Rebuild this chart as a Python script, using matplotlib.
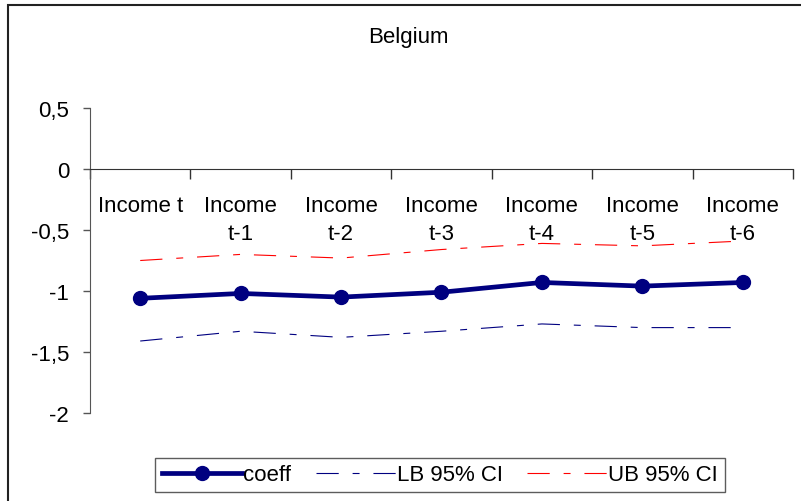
import numpy as np
import matplotlib
matplotlib.use('Agg')
import matplotlib.pyplot as plt
from matplotlib.patches import Rectangle

plt.rcParams['font.family'] = ['Liberation Sans', 'DejaVu Sans']
plt.rcParams['lines.scale_dashes'] = False

# data
categories = ['Income t', 'Income\nt-1', 'Income\nt-2', 'Income\nt-3',
              'Income\nt-4', 'Income\nt-5', 'Income\nt-6']
coeff = [-1.06, -1.02, -1.05, -1.01, -0.93, -0.96, -0.93]
lb_ci = [-1.41, -1.33, -1.38, -1.33, -1.27, -1.30, -1.30]
ub_ci = [-0.75, -0.70, -0.73, -0.66, -0.61, -0.63, -0.59]
yticks = [0.5, 0, -0.5, -1, -1.5, -2]
ytick_labels = ['0,5', '0', '-0,5', '-1', '-1,5', '-2']

W, H = 801, 502
FS = 16
fig = plt.figure(figsize=(W / 100, H / 100), dpi=100)
fig.patch.set_facecolor('white')

# chart frame
fig.add_artist(Rectangle((8 / W, -0.01), 1.0, 1 - 6 / H + 0.01,
                         transform=fig.transFigure, fill=False,
                         edgecolor='#222222', linewidth=1.5))

ax = fig.add_axes([90 / W, 1 - 414 / H, 703 / W, 305 / H])
x = np.arange(len(categories))

dash = (0, (16, 10, 5, 10))
ax.plot(x, coeff, color='#000080', linewidth=3.4, marker='o',
        markersize=10, label='coeff', zorder=3)
ax.plot(x, lb_ci, color='#000080', linewidth=0.8, linestyle=dash,
        label='LB 95% CI')
ax.plot(x, ub_ci, color='#ff0000', linewidth=0.8, linestyle=dash,
        label='UB 95% CI')

ax.set_xlim(-0.5, len(categories) - 0.5)
ax.set_ylim(-2, 0.5)
ax.set_yticks(yticks)
ax.set_yticklabels(ytick_labels, fontsize=FS)
ax.tick_params(axis='y', direction='out', length=5, width=1,
               color='#555555', pad=10)

ax.spines['top'].set_visible(False)
ax.spines['right'].set_visible(False)
ax.spines['left'].set_color('#555555')
ax.spines['bottom'].set_position(('data', 0))
ax.spines['bottom'].set_color('#333333')
ax.set_xticks(np.arange(-0.5, len(categories)))
ax.set_xticklabels([])
ax.tick_params(axis='x', direction='out', length=7, width=1, color='#333333')

for xi, lab in zip(x, categories):
    ax.text(xi, -0.21, lab, ha='center', va='top', fontsize=FS,
            linespacing=1.45)

fig.text(408 / W, 1 - 37 / H, 'Belgium', ha='center', va='center',
         fontsize=FS)

leg = fig.legend(loc='center', bbox_to_anchor=(440 / W, 1 - 476 / H),
                 ncol=3, fontsize=FS, frameon=True, fancybox=False,
                 handlelength=3.6, handletextpad=0.05, columnspacing=1.1,
                 borderpad=0.3, borderaxespad=0)
leg.get_frame().set_edgecolor('#333333')
leg.get_frame().set_linewidth(1)

fig.savefig('out.png', dpi=100, facecolor='white')
